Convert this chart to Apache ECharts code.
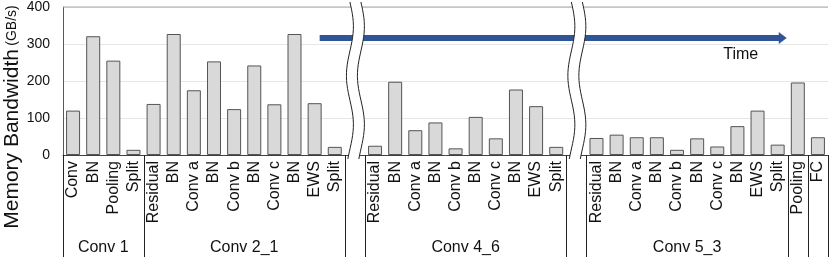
<!DOCTYPE html>
<html><head><meta charset="utf-8">
<script src="https://cdn.jsdelivr.net/npm/echarts@6/dist/echarts.min.js"></script>
<style>html,body{margin:0;padding:0;background:#fff}#c{width:830px;height:257px}</style>
</head><body><div id="c"></div>
<script>
// ---- data ----
const conv1Labels = ['Conv','BN','Pooling','Split'];
const conv1Values = [120,321,255,14];
const blockLabels = ['Residual','BN','Conv a','BN','Conv b','BN','Conv c','BN','EWS','Split'];
const conv21Values = [138,327,175,253,124,242,137,327,140,22];
const conv46Values = [25,198,67,88,18,103,45,177,132,22];
const conv53Values = [46,55,48,48,14,45,23,78,120,28];
const poolLabels = ['Pooling'];
const poolValues = [196];
const fcLabels = ['FC'];
const fcValues = [48];
const yTicks = [0,100,200,300,400];

const segments = [
  {name:'Conv 1', labels:conv1Labels, values:conv1Values, breakAfter:false},
  {name:'Conv 2_1', labels:blockLabels, values:conv21Values, breakAfter:true},
  {name:'Conv 4_6', labels:blockLabels, values:conv46Values, breakAfter:true},
  {name:'Conv 5_3', labels:blockLabels, values:conv53Values, breakAfter:false},
  {name:'', labels:poolLabels, values:poolValues, breakAfter:false},
  {name:'', labels:fcLabels, values:fcValues, breakAfter:false}
];

const categories = [], values = [], segInfo = [], gaps = [];
segments.forEach(s => {
  const start = categories.length;
  s.labels.forEach((l,i) => { categories.push(l); values.push(s.values[i]); });
  segInfo.push({name:s.name, start:start, end:categories.length-1});
  if (s.breakAfter) { gaps.push(categories.length); categories.push(''); values.push('-'); }
});

const chart = echarts.init(document.getElementById('c'));
const FONT = '"Liberation Sans", Arial, sans-serif';
chart.setOption({
  animation:false,
  grid:{left:63, right:2, top:7, bottom:102},
  xAxis:{type:'category', data:categories,
    axisLine:{show:true, lineStyle:{color:'#404040', width:1}},
    axisTick:{show:false},
    axisLabel:{interval:0, rotate:90, margin:6, fontSize:16, color:'#111', fontFamily:FONT}
  },
  yAxis:{type:'value', min:yTicks[0], max:yTicks[yTicks.length-1], interval:yTicks[1]-yTicks[0],
    axisLine:{show:true, lineStyle:{color:'#595959'}},
    axisTick:{show:false},
    axisLabel:{fontSize:14, color:'#111', fontFamily:FONT, margin:13},
    splitLine:{show:true, lineStyle:{color:'#e6e6e6', width:1}}
  },
  series:[{type:'bar', data:values, barWidth:14,
    itemStyle:{color:'#d9d9d9', borderColor:'#555', borderWidth:1}}]
});

function px(i){ return chart.convertToPixel({xAxisIndex:0}, i); }
function py(v){ return chart.convertToPixel({yAxisIndex:0}, v); }
const bw = px(1)-px(0);
function edge(i){ return px(0) + (i-0.5)*bw; }
function xAt(f){ return px(0) + f*bw; }
const y0 = py(0), yTop = py(400);
const H = 257;
const g = [];

// top frame line
g.push({type:'line', z:50, shape:{x1:edge(0), y1:yTop, x2:edge(categories.length), y2:yTop}, style:{stroke:'#a6a6a6', lineWidth:1}});

// group separators and labels
segInfo.forEach(s => {
  [edge(s.start), edge(s.end+1)].forEach(x => {
    g.push({type:'line', z:50, shape:{x1:Math.round(x)+0.5, y1:y0, x2:Math.round(x)+0.5, y2:H}, style:{stroke:'#222', lineWidth:1}});
  });
  if (s.name) {
    g.push({type:'text', z:50, x:(edge(s.start)+edge(s.end+1))/2, y:248,
      style:{text:s.name, font:'16px '+FONT, fill:'#111', align:'center', verticalAlign:'middle'}});
  }
});

// arrow
const arrowStart = 12.25, arrowEnd = 35.45, arrowVal = 316;
const ay = py(arrowVal), ax1 = xAt(arrowStart), ax2 = xAt(arrowEnd);
g.push({type:'line', z:60, shape:{x1:ax1, y1:ay, x2:ax2-7, y2:ay}, style:{stroke:'#2F5597', lineWidth:6}});
g.push({type:'polygon', z:60, shape:{points:[[ax2-8,ay-6],[ax2,ay],[ax2-8,ay+6]]}, style:{fill:'#2F5597'}});
g.push({type:'text', z:60, x:ax2-46, y:ay+17, style:{text:'Time', font:'16px '+FONT, fill:'#111', align:'center', verticalAlign:'middle'}});

// axis break marks
gaps.forEach(gi => {
  const cx = px(gi);
  const top = 2, bot = y0+4, n = 40;
  const left = [], right = [];
  for (let k=0;k<=n;k++){
    const y = top + (bot-top)*k/n;
    const dx = 3.5*Math.sin((y-top)/(bot-top)*Math.PI*3.2);
    left.push([cx-5+dx, y]);
    right.push([cx+6+dx, y]);
  }
  g.push({type:'polygon', z:70, shape:{points:left.concat(right.slice().reverse())}, style:{fill:'#fff', stroke:null}});
  g.push({type:'polyline', z:71, shape:{points:left}, style:{stroke:'#222', lineWidth:1, fill:null}});
  g.push({type:'polyline', z:71, shape:{points:right}, style:{stroke:'#222', lineWidth:1, fill:null}});
});

// y axis title
g.push({type:'text', z:50, x:12, y:117, rotation:Math.PI/2,
  style:{text:'{a|Memory Bandwidth} {b|(GB/s)}', align:'center', verticalAlign:'middle',
    rich:{a:{fontSize:21, fontFamily:FONT, fill:'#111'}, b:{fontSize:14, fontFamily:FONT, fill:'#111'}}}});

chart.setOption({graphic:g});
</script></body></html>
